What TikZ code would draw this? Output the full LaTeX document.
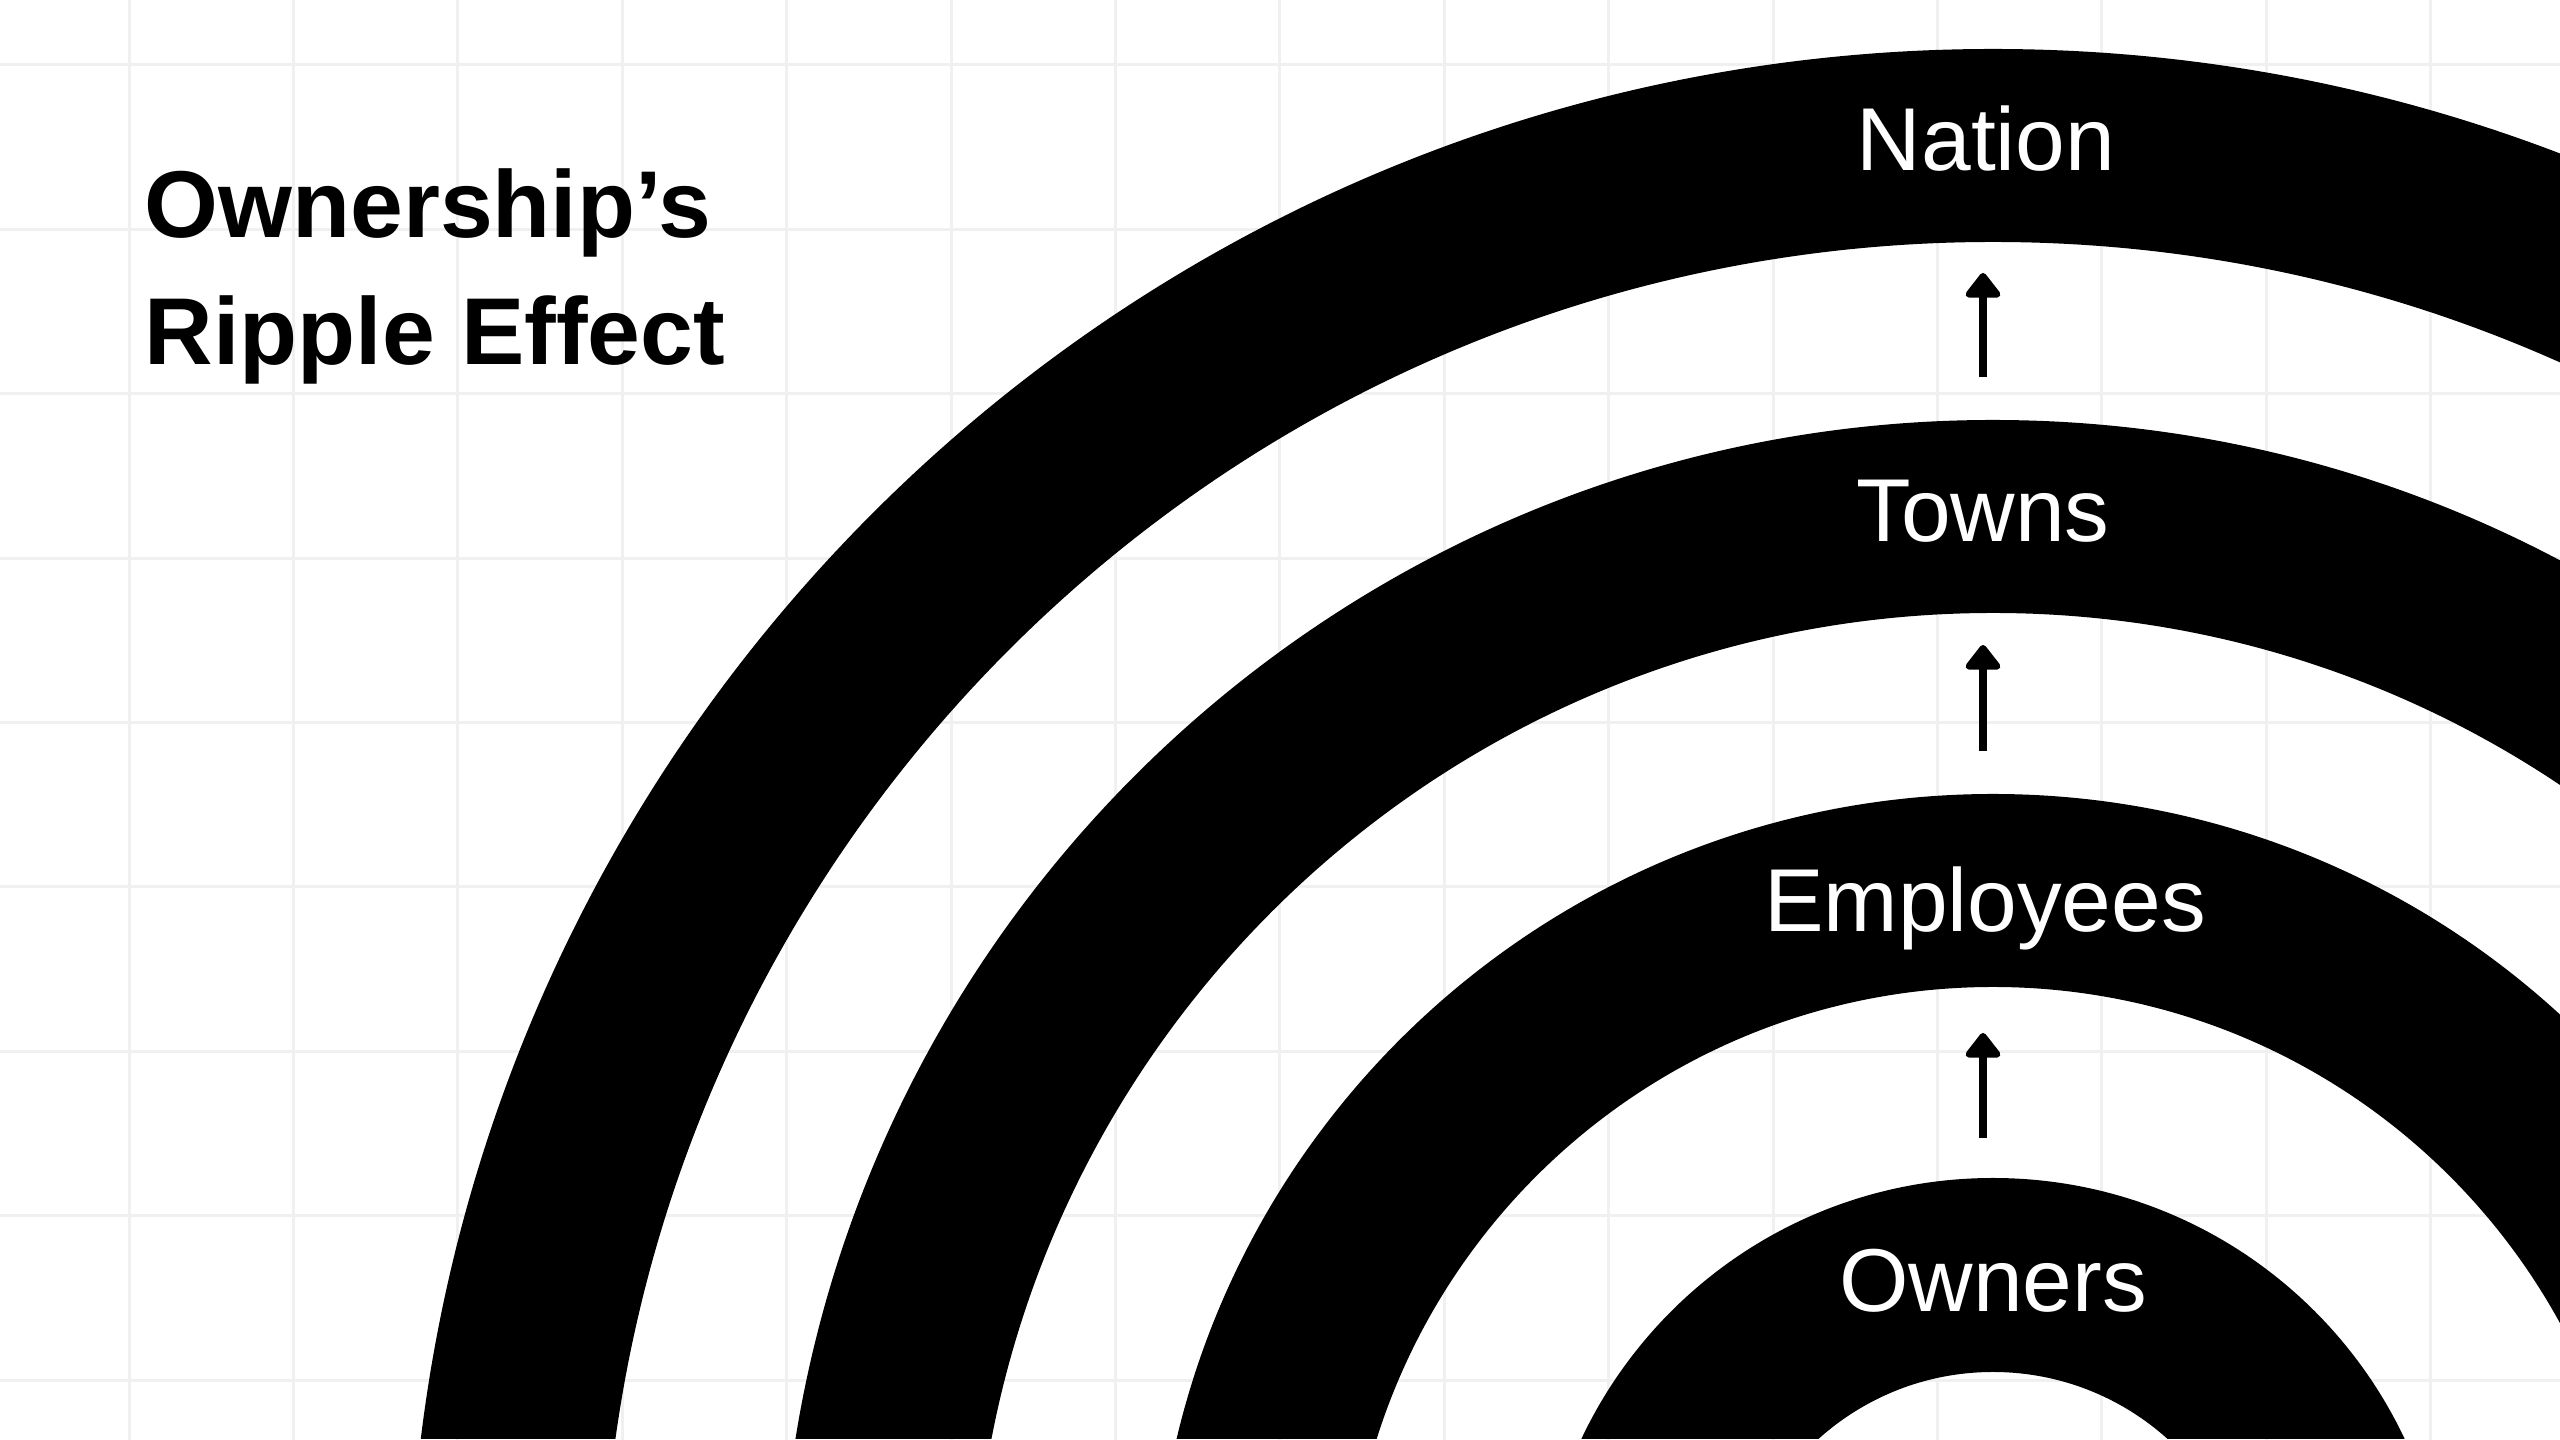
\documentclass[tikz,border=0pt]{standalone}
\usepackage{fontspec}
\setmainfont{Liberation Sans}
\usetikzlibrary{arrows.meta}
\definecolor{gridgray}{RGB}{240,240,240}

\begin{document}
\begin{tikzpicture}
		[x=0.01cm,y=0.01cm,every node/.style={inner sep=0pt,anchor=base},
		ring/.style={fill=black,even odd rule},
		ringtext/.style={text=white,font=\fontsize{25.4pt}{30pt}\selectfont},
		title/.style={anchor=base west,font=\fontsize{27pt}{36pt}\selectfont\bfseries},
		edge/.style={->,>={Triangle[length=0.27cm,width=0.4cm,round]},line width=0.08cm}]
		\useasboundingbox (0,0) rectangle (2560,1440);
		\fill[white] (0,0) rectangle (2560,1440);
		
		\foreach \x in {0,...,14}
		\draw[gridgray,line width=0.03cm] (129+164.4*\x,0) -- (129+164.4*\x,1440);
		\foreach \y in {0,...,8}
		\draw[gridgray,line width=0.03cm] (0,1375-164.4*\y) -- (2560,1375-164.4*\y);
		
		\begin{scope}
		\clip (0,1) rectangle (2560,1440);
		\foreach \rout/\rin in {1584/1391,1213/1020,839/646,455/261}
		\fill[ring] (1993,-193) circle (\rout) circle (\rin);
		\end{scope}
		
		\node[title] (ttl1) at (144,1202) {Ownership’s};
		\node[title] (ttl2) at (144,1075) {Ripple Effect};
		
		\node[ringtext] (nat) at (1986,1269) {Nation};
		\node[ringtext] (town) at (1983,898) {Towns};
		\node[ringtext] (emp) at (1985,508) {Employees};
		\node[ringtext] (own) at (1993,128) {Owners};
		
		\coordinate (a1) at (1983,302);
		\coordinate (b1) at (1983,407);
		\coordinate (a2) at (1983,689);
		\coordinate (b2) at (1983,795);
		\coordinate (a3) at (1983,1063);
		\coordinate (b3) at (1983,1167);
		
		\foreach \from/\to in {a1/b1,a2/b2,a3/b3}
		\draw[edge] (\from) -- (\to);
		\end{tikzpicture}
\end{document}
